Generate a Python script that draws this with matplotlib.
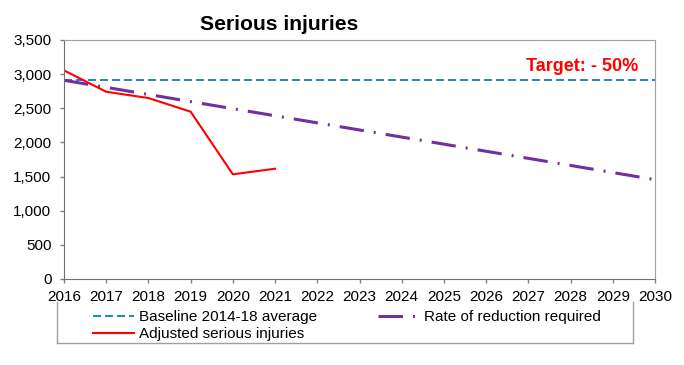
import matplotlib
matplotlib.use("Agg")
import matplotlib.pyplot as plt
from matplotlib.lines import Line2D

plt.rcParams['font.family'] = ['Liberation Sans', 'DejaVu Sans']

years = list(range(2016, 2031))
baseline = 2910
target_end = 1455
adj_years = [2016, 2017, 2018, 2019, 2020, 2021]
adj_injuries = [3055, 2742, 2650, 2450, 1533, 1615]

fig = plt.figure(figsize=(6.84, 3.65), dpi=100)
ax = fig.add_axes([64 / 684, 1 - 279 / 365, 591 / 684, 239 / 365])

l1, = ax.plot([years[0], years[-1]], [baseline, baseline], color='#0070C0',
              lw=1.2, dashes=(4.8, 2.4), label='Baseline 2014-18 average')
l3, = ax.plot([years[0], years[-1]], [baseline, target_end], color='#7030A0',
              lw=2.2, dashes=(8.0, 3.3, 0.65, 3.3), label='Rate of reduction required')
l2, = ax.plot(adj_years, adj_injuries, color='#FF0000', lw=1.5,
              label='Adjusted serious injuries')

ax.set_xlim(2016, 2030)
ax.set_ylim(0, 3500)
ax.set_xticks(years)
ax.set_yticks(range(0, 3501, 500))
ax.set_yticklabels([f"{v:,}" for v in range(0, 3501, 500)])
ax.tick_params(axis='both', labelsize=11, length=3, width=1, color='#808080', direction='out')
ax.tick_params(axis='y', pad=6)
ax.tick_params(axis='x', pad=5)
for side in ['left', 'bottom']:
    ax.spines[side].set_color('#707070')
for side in ['right', 'top']:
    ax.spines[side].set_color('#a0a0a0')

ax.text(0.971, 0.891, 'Target: - 50%', transform=ax.transAxes, ha='right', va='center',
        color='#FF0000', fontsize=13, fontweight='bold')

fig.text(279 / 684, 1 - 24 / 365, 'Serious injuries', ha='center', va='center',
         fontsize=15.2, fontweight='bold')

fig.legend(handles=[l1, l2, l3], loc='upper left', bbox_to_anchor=(93 / 684, 1 - 310 / 365),
           ncol=2, frameon=False, fontsize=11, handlelength=2.7, handletextpad=0.3,
           columnspacing=4.0, borderpad=0, borderaxespad=0, labelspacing=0.2)

# legend box (left, bottom, right sides)
bx0, bx1, by0, by1 = 57 / 684, 633 / 684, 1 - 343 / 365, 1 - 302 / 365
for xs, ys in [([bx0, bx0], [by1, by0]), ([bx0, bx1], [by0, by0]), ([bx1, bx1], [by0, by1])]:
    fig.add_artist(Line2D(xs, ys, transform=fig.transFigure, color='#a0a0a0', lw=1))

fig.savefig('out.png', dpi=100)
